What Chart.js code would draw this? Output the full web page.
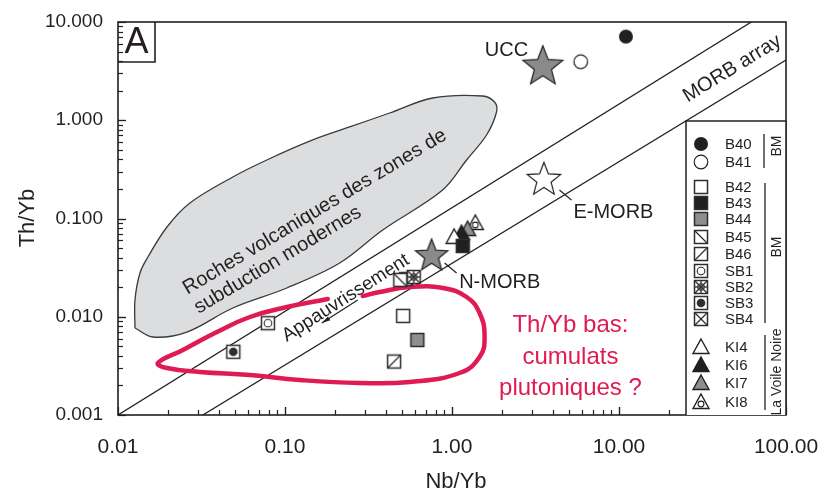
<!DOCTYPE html>
<html><head><meta charset="utf-8">
<script src="https://cdn.jsdelivr.net/npm/chart.js@4/dist/chart.umd.min.js"></script>
<style>html,body{margin:0;padding:0;background:#fff}#wrap{width:826px;height:495px;position:relative}</style>
</head><body><div id="wrap"><canvas id="c"></canvas></div>
<script>
const FONT = '"Liberation Sans", Arial, Helvetica, sans-serif';
const INK = '#231f20';
const CRIMSON = '#e01a52';

// ---- data: samples (Nb/Yb, Th/Yb) ----
const sampleNames = ['B40','B41','B42','B43','B44','B45','B46','SB1','SB2','SB3','SB4','KI4','KI6','KI7','KI8'];
const sampleNbYb = [11.0, 5.9, 0.51, 1.16, 0.62, 0.49, 0.45, 0.079, 0.59, 0.049, 0.53, 1.03, 1.14, 1.24, 1.38];
const sampleThYb = [7.1, 3.94, 0.0102, 0.0525, 0.0058, 0.0237, 0.0035, 0.0086, 0.0254, 0.0044, 0.0242, 0.065, 0.071, 0.078, 0.090];

// reference compositions
const refNames = ['UCC','N-MORB','E-MORB'];
const refNbYb = [3.5, 0.755, 3.55];
const refThYb = [3.5, 0.0415, 0.247];

// MORB array bounding lines
const morbUpperNbYb = [0.01, 62];
const morbUpperThYb = [0.001, 10];
const morbLowerNbYb = [0.0322, 100];
const morbLowerThYb = [0.001, 4.1];

// field: Roches volcaniques des zones de subduction modernes
const fieldNbYb = [0.01264,0.01264,0.01354,0.01511,0.01964,0.02695,0.0487,0.0778,0.1466,0.244,0.4233,0.7656,1.524,1.798,1.848,1.610,1.223,0.879,0.3846,0.2127,0.1025,0.0487,0.02586,0.01620];
const fieldThYb = [0.00768,0.01481,0.02788,0.04056,0.0819,0.1438,0.2645,0.394,0.63,0.854,1.185,1.685,1.765,1.534,1.213,0.708,0.394,0.195,0.0764,0.03524,0.01962,0.01228,0.00699,0.00622];

// red outline: Th/Yb bas (cumulats plutoniques ?)
const lowNbYb = [0.292,0.369,0.558,0.879,1.223,1.463,1.567,1.463,1.110,0.558,0.280,0.1226,0.0616,0.0309,0.01964,0.01735,0.02448,0.0391,0.0616,0.1025,0.1803];
const lowThYb = [0.01626,0.01786,0.0201,0.01962,0.01589,0.01092,0.00622,0.00389,0.002676,0.002168,0.002117,0.002271,0.002554,0.002739,0.003009,0.003383,0.004588,0.00699,0.00994,0.01257,0.01516];

// axes
const xTickValues = [0.01, 0.1, 1, 10, 100];
const xTickLabels = ['0.01','0.10','1.00','10.00','100.00'];
const yTickValues = [0.001, 0.01, 0.1, 1, 10];
const yTickLabels = ['0.001','0.010','0.100','1.000','10.000'];

// ---- marker styles (separate from data) ----
const sampleMarker = {B40:'dotFilled',B41:'dotOpen',B42:'sqOpen',B43:'sqBlack',B44:'sqGrey',B45:'sqBack',B46:'sqSlash',SB1:'sqCircle',SB2:'sqStar',SB3:'sqDot',SB4:'sqX',KI4:'triOpen',KI6:'triBlack',KI7:'triGrey',KI8:'triCircle'};
const refMarker = {'UCC':'starBig','N-MORB':'starGrey','E-MORB':'starOpen'};

function mk(size, fn){const c=document.createElement('canvas');c.width=size;c.height=size;const g=c.getContext('2d');g.translate(size/2,size/2);fn(g);return c;}
function sq(g, fill){g.beginPath();g.rect(-6.5,-6.5,13,13);g.fillStyle=fill;g.fill();g.lineWidth=1.5;g.strokeStyle='#2e2e2e';g.stroke();}
function ln(g,a,b,c,d){g.beginPath();g.moveTo(a,b);g.lineTo(c,d);g.lineWidth=1.3;g.strokeStyle='#2e2e2e';g.stroke();}
function tri(g, fill){g.beginPath();g.moveTo(0,-8);g.lineTo(8,6.5);g.lineTo(-8,6.5);g.closePath();g.fillStyle=fill;g.fill();g.lineWidth=1.4;g.strokeStyle=INK;g.lineJoin='miter';g.stroke();}
function star(g,R,fill){const r=R*0.43;g.beginPath();for(let i=0;i<10;i++){const a=-Math.PI/2+i*Math.PI/5;const rr=i%2?r:R;g.lineTo(rr*Math.cos(a),rr*Math.sin(a));}g.closePath();g.fillStyle=fill;g.fill();g.lineWidth=1.2;g.strokeStyle=INK;g.stroke();}
const M = {
  dotFilled: mk(18,g=>{g.beginPath();g.arc(0,0,7,0,Math.PI*2);g.fillStyle=INK;g.fill();}),
  dotOpen: mk(18,g=>{g.beginPath();g.arc(0,0,6.8,0,Math.PI*2);g.fillStyle='#fff';g.fill();g.lineWidth=1.2;g.strokeStyle=INK;g.stroke();}),
  sqOpen: mk(18,g=>sq(g,'#fff')),
  sqBlack: mk(18,g=>sq(g,'#231f20')),
  sqGrey: mk(18,g=>sq(g,'#8d8e91')),
  sqBack: mk(18,g=>{sq(g,'#fff');ln(g,-6.5,-6.5,6.5,6.5);}),
  sqSlash: mk(18,g=>{sq(g,'#fff');ln(g,-6.5,6.5,6.5,-6.5);}),
  sqCircle: mk(18,g=>{sq(g,'#fff');g.beginPath();g.arc(0,0,3.8,0,Math.PI*2);g.lineWidth=1.1;g.strokeStyle='#2e2e2e';g.stroke();}),
  sqStar: mk(18,g=>{sq(g,'#fff');ln(g,-6.5,-6.5,6.5,6.5);ln(g,-6.5,6.5,6.5,-6.5);ln(g,0,-6.5,0,6.5);ln(g,-6.5,0,6.5,0);g.beginPath();g.arc(0,0,3.2,0,Math.PI*2);g.lineWidth=1.1;g.stroke();}),
  sqDot: mk(18,g=>{sq(g,'#fff');g.beginPath();g.arc(0,0,4.3,0,Math.PI*2);g.fillStyle='#2e2e2e';g.fill();}),
  sqX: mk(18,g=>{sq(g,'#fff');ln(g,-6.5,-6.5,6.5,6.5);ln(g,-6.5,6.5,6.5,-6.5);}),
  triOpen: mk(20,g=>tri(g,'#fff')),
  triBlack: mk(20,g=>tri(g,'#231f20')),
  triGrey: mk(20,g=>tri(g,'#8d8e91')),
  triCircle: mk(20,g=>{tri(g,'#fff');g.beginPath();g.arc(0,2,2.9,0,Math.PI*2);g.lineWidth=1.1;g.strokeStyle=INK;g.stroke();}),
  starBig: mk(46,g=>star(g,21,'#8b898b')),
  starGrey: mk(40,g=>star(g,17,'#8b898b')),
  starOpen: mk(40,g=>star(g,17.5,'#fff'))
};

// ---- datasets ----
const datasets = [];
datasets.push({label:'field', data: fieldNbYb.map((v,i)=>({x:v,y:fieldThYb[i]})).concat([{x:fieldNbYb[0],y:fieldThYb[0]}]),
  showLine:true, fill:'shape', backgroundColor:'#dcdddf', borderColor:'#3a3a3a', borderWidth:1.3, pointRadius:0, tension:0.35, order:10});
datasets.push({label:'morbUpper', data: morbUpperNbYb.map((v,i)=>({x:v,y:morbUpperThYb[i]})), showLine:true, borderColor:INK, borderWidth:1.3, pointRadius:0, order:9});
datasets.push({label:'morbLower', data: morbLowerNbYb.map((v,i)=>({x:v,y:morbLowerThYb[i]})), showLine:true, borderColor:INK, borderWidth:1.3, pointRadius:0, order:9});
datasets.push({label:'low', data: lowNbYb.map((v,i)=>({x:v,y:lowThYb[i]})), showLine:true, borderColor:CRIMSON, borderWidth:4.5, borderCapStyle:'round', borderJoinStyle:'round', pointRadius:0, tension:0.45, order:8});
refNames.forEach((n,i)=>datasets.push({label:n, data:[{x:refNbYb[i],y:refThYb[i]}], pointStyle:M[refMarker[n]], pointRadius:8, order:2}));
sampleNames.forEach((n,i)=>datasets.push({label:n, data:[{x:sampleNbYb[i],y:sampleThYb[i]}], pointStyle:M[sampleMarker[n]], pointRadius:7, order:1}));

// ---- annotations (text anchored in data coordinates) ----
const texts = [
  {t:'UCC', x:2.12, y:5.19, size:20},
  {t:'E-MORB', x:9.26, y:0.1138, size:20},
  {t:'N-MORB', x:1.93, y:0.0221, size:20},
  {t:'MORB array', x:47.6, y:3.35, size:20, rot:-31.5},
  {t:'Appauvrissement', x:0.231, y:0.0155, size:19, rot:-32.5},
  {t:'Roches volcaniques des zones de', x:0.1508, y:0.1165, size:20, rot:-31},
  {t:'subduction modernes', x:0.0906, y:0.0378, size:20, rot:-31},
  {t:'Th/Yb bas:', x:5.12, y:0.00824, size:24, color:CRIMSON},
  {t:'cumulats', x:5.12, y:0.00389, size:24, color:CRIMSON},
  {t:'plutoniques ?', x:5.12, y:0.00188, size:24, color:CRIMSON}
];
const leaders = [
  [4.40,0.195,5.19,0.1543],
  [0.903,0.03524,1.065,0.02788]
];
const arrowFrom = [0.2725,0.0148], arrowTo = [0.166,0.00864];

const legendRows = [
  ['B40',144],['B41',162],['B42',187],['B43',203],['B44',219],['B45',237],['B46',254],['SB1',271],['SB2',287],['SB3',303],['SB4',319],
  ['KI4',347],['KI6',365],['KI7',383],['KI8',402]
];
const legendGroups = [['BM',764,134,168,146],['BM',765,183,323,247],['La Voile Noire',765,335,410,372]];

const decor = {
  id:'decor',
  afterDatasetsDraw(chart){
    const {ctx, chartArea:a, scales:{x,y}} = chart;
    const px=v=>x.getPixelForValue(v), py=v=>y.getPixelForValue(v);
    ctx.save();
    ctx.strokeStyle=INK; ctx.fillStyle=INK;
    ctx.lineWidth=1.2;
    leaders.forEach(l=>{ctx.beginPath();ctx.moveTo(px(l[0]),py(l[1]));ctx.lineTo(px(l[2]),py(l[3]));ctx.stroke();});
    const ax0=px(arrowFrom[0]), ay0=py(arrowFrom[1]), ax1=px(arrowTo[0]), ay1=py(arrowTo[1]);
    ctx.beginPath();ctx.moveTo(ax0,ay0);ctx.lineTo(ax1,ay1);ctx.stroke();
    const ang=Math.atan2(ay1-ay0,ax1-ax0);
    ctx.beginPath();ctx.moveTo(ax1,ay1);
    ctx.lineTo(ax1-9*Math.cos(ang-0.25),ay1-9*Math.sin(ang-0.25));
    ctx.lineTo(ax1-9*Math.cos(ang+0.25),ay1-9*Math.sin(ang+0.25));
    ctx.closePath();ctx.fill();
    texts.forEach(o=>{
      ctx.save();
      ctx.translate(px(o.x),py(o.y));
      if(o.rot) ctx.rotate(o.rot*Math.PI/180);
      ctx.font=o.size+'px '+FONT; ctx.fillStyle=o.color||INK;
      ctx.textAlign='center'; ctx.textBaseline='middle';
      ctx.fillText(o.t,0,0);
      ctx.restore();
    });
    ctx.strokeStyle=INK; ctx.lineWidth=1.2;
    for(let d=-2; d<=1; d++) for(let m=1;m<=10;m++){
      const v=m*Math.pow(10,d); const X=Math.round(px(v))+0.5; const L=(m===1||m===10)?8:5;
      ctx.beginPath();ctx.moveTo(X,a.bottom);ctx.lineTo(X,a.bottom-L);ctx.stroke();
    }
    for(let d=-3; d<=0; d++) for(let m=1;m<=10;m++){
      const v=m*Math.pow(10,d); const Y=Math.round(py(v))+0.5; const L=(m===1||m===10)?8:5;
      ctx.beginPath();ctx.moveTo(a.left,Y);ctx.lineTo(a.left+L,Y);ctx.stroke();
    }
    ctx.lineWidth=1.6;
    ctx.strokeRect(a.left, a.top, a.right-a.left, a.bottom-a.top);
    ctx.beginPath();ctx.moveTo(a.left+37,a.top);ctx.lineTo(a.left+37,a.top+40);ctx.lineTo(a.left,a.top+40);ctx.stroke();
    ctx.font='36px '+FONT; ctx.textAlign='center'; ctx.textBaseline='middle'; ctx.fillStyle=INK;
    ctx.fillText('A', a.left+18.5, a.top+21);
    // legend
    const lx=686, ly=121;
    ctx.fillStyle='#fff'; ctx.fillRect(lx, ly, a.right-lx, a.bottom-ly);
    ctx.lineWidth=1.5; ctx.strokeStyle=INK;
    ctx.beginPath();ctx.moveTo(lx,a.bottom);ctx.lineTo(lx,ly);ctx.lineTo(a.right,ly);ctx.lineTo(a.right,a.bottom);ctx.stroke();
    ctx.font='15px '+FONT; ctx.textAlign='left'; ctx.textBaseline='middle'; ctx.fillStyle=INK;
    legendRows.forEach(([n,yy])=>{
      const c=M[sampleMarker[n]];
      ctx.drawImage(c, 701-c.width/2, yy-c.height/2);
      ctx.fillText(n, 725, yy+1);
    });
    ctx.lineWidth=1.3;
    legendGroups.forEach(([t,bx,y0,y1,cy])=>{
      ctx.beginPath();ctx.moveTo(bx,y0);ctx.lineTo(bx,y1);ctx.stroke();
      ctx.save();ctx.translate(777,cy);ctx.rotate(-Math.PI/2);
      ctx.font='14px '+FONT; ctx.textAlign='center'; ctx.textBaseline='middle';
      ctx.fillText(t,0,0);ctx.restore();
    });
    ctx.font='22px '+FONT; ctx.textAlign='center'; ctx.textBaseline='middle'; ctx.fillStyle=INK;
    ctx.fillText('Nb/Yb', 456, 482);
    ctx.save();ctx.translate(28,218);ctx.rotate(-Math.PI/2);ctx.fillText('Th/Yb',0,0);ctx.restore();
    ctx.restore();
  }
};

Chart.defaults.font.family = FONT;
new Chart(document.getElementById('c'), {
  type:'scatter',
  data:{datasets},
  options:{
    responsive:true, maintainAspectRatio:false, animation:false, events:[],
    layout:{padding:{top:22,right:40,left:0,bottom:0}},
    plugins:{legend:{display:false}, tooltip:{enabled:false}},
    scales:{
      x:{type:'logarithmic', min:0.01, max:100,
        afterBuildTicks:s=>{s.ticks=xTickValues.map(v=>({value:v,major:true}));},
        afterFit:s=>{s.height=80; s.paddingLeft=0; s.paddingRight=0;},
        grid:{display:false, drawTicks:false}, border:{display:false},
        ticks:{autoSkip:false, maxRotation:0, padding:20, color:INK, font:{size:21},
          callback:(v,i)=>xTickLabels[i]}},
      y:{type:'logarithmic', min:0.001, max:10,
        afterBuildTicks:s=>{s.ticks=yTickValues.map(v=>({value:v,major:true}));},
        afterFit:s=>{s.width=118; s.paddingTop=0; s.paddingBottom=0;},
        grid:{display:false, drawTicks:false}, border:{display:false},
        ticks:{autoSkip:false, padding:15, color:INK, font:{size:19},
          callback:(v,i)=>yTickLabels[i]}}
    }
  },
  plugins:[decor]
});
</script></body></html>
